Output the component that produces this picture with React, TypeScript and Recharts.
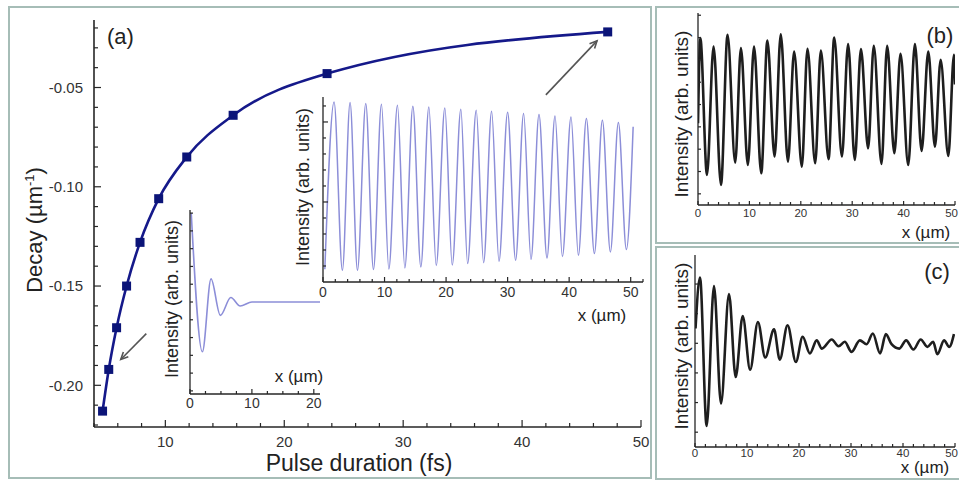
import React from "react";
import { LineChart, Line, XAxis, YAxis, ReferenceLine } from "recharts";

const FONT = "Arial, 'Liberation Sans', Helvetica, sans-serif";
const INK = "#262626";
const FRAME = "#a6bdb7";

// (a) decay constant vs pulse duration
const pulseFs = [4.72, 5.24, 5.9, 6.74, 7.87, 9.44, 11.8, 15.7, 23.6, 47.2];
const decay = [-0.213, -0.192, -0.171, -0.15, -0.128, -0.106, -0.085, -0.064, -0.043, -0.022];
const pulseTicks = [4, 6, 8, 10, 12, 14, 16, 18, 20, 22, 24, 26, 28, 30, 32, 34, 36, 38, 40, 42, 44, 46, 48, 50];
const decayTicks = [-0.22, -0.21, -0.2, -0.19, -0.18, -0.17, -0.16, -0.15, -0.14, -0.13, -0.12, -0.11, -0.1, -0.09, -0.08, -0.07, -0.06, -0.05, -0.04, -0.03, -0.02];

// inset: short pulse (fast decay)
const shortX = [0.2, 2.0, 3.4, 4.9, 6.6, 8.1, 10, 21];
const shortI = [1.0, -0.56, 0.26, -0.15, 0.05, -0.045, 0, 0];
const shortXTicks = [0, 2.5, 5, 7.5, 10, 12.5, 15, 17.5, 20];
const shortYTicks = [-1, -0.8, -0.6, -0.4, -0.2, 0, 0.2, 0.4, 0.6, 0.8, 1];

// inset: long pulse (slow decay), peaks and troughs
const longX = [0.3, 1.8, 3.15, 4.4, 5.6, 6.95, 8.2, 9.5, 10.7, 12.1, 13.3, 14.6, 15.9, 17.2, 18.4, 19.8, 21.0, 22.4, 23.5, 24.9, 26.1, 27.4, 28.6, 30.0, 31.3, 32.6, 33.8, 35.1, 36.4, 37.7, 38.9, 40.3, 41.5, 42.8, 44.1, 45.4, 46.7, 48.0, 49.3, 50.4];
const longI = [8, 112.5, 7.3, 112.1, 7.3, 111.5, 7.8, 111.1, 8.1, 110.4, 8.8, 109.8, 9.4, 109.4, 10.3, 108.8, 10.6, 107.9, 11.5, 107.3, 12.1, 106.7, 12.9, 106.1, 13.6, 105.3, 14.2, 104.6, 15.0, 103.8, 15.9, 103.1, 16.7, 102.1, 17.8, 101.1, 18.8, 99.6, 20.3, 97];
const longXTicks = [0, 2, 4, 6, 8, 10, 12, 14, 16, 18, 20, 22, 24, 26, 28, 30, 32, 34, 36, 38, 40, 42, 44, 46, 48, 50, 52];
const longYTicks = [10, 20, 30, 40, 50, 60, 70, 80, 90, 100, 110];

// (b) measured, long pulse
const bX = [0, 0.45, 1.75, 3.03, 4.47, 5.75, 7.24, 8.35, 9.7, 10.9, 12.3, 13.5, 14.9, 16.1, 17.5, 18.7, 20.2, 21.3, 22.8, 23.9, 25.4, 26.5, 28.0, 29.2, 30.5, 31.7, 33.1, 34.2, 35.7, 36.8, 38.2, 39.4, 40.9, 42.2, 43.5, 44.8, 46.1, 47.2, 48.7, 49.8, 50];
const bI = [36.6, 74.8, 13.5, 71.0, 9.0, 76.2, 19.0, 70.3, 17.9, 71.0, 14.2, 73.7, 21.7, 76.5, 19.4, 68.7, 17.2, 70.0, 18.7, 69.2, 20.5, 75.0, 21.7, 72.1, 20.2, 69.8, 25.4, 71.3, 18.4, 71.3, 23.2, 67.7, 17.9, 72.1, 24.2, 68.7, 26.1, 65.0, 22.0, 67.3, 54];
const bYTicks = [5, 15, 25, 35, 45, 55, 65, 75, 85];

// (c) measured, short pulse
const cX = [0.1, 0.96, 2.24, 3.65, 5.0, 6.54, 7.82, 9.17, 10.6, 12.1, 13.5, 15.2, 16.3, 17.8, 19.4, 20.7, 22.1, 23.4, 24.4, 26.3, 27.6, 28.8, 30.1, 31.7, 33.0, 34.2, 35.6, 36.7, 37.8, 39.3, 40.6, 42.0, 43.4, 44.7, 45.8, 46.6, 47.9, 48.9, 49.8];
const cI = [40, 57.2, 7.1, 54.3, 14.7, 51.6, 23.6, 44.2, 26.1, 42.2, 30.2, 39.7, 29.5, 41.1, 28.7, 37.2, 31.6, 36.0, 33.2, 36.3, 34.0, 35.5, 32.1, 36.0, 34.7, 38.3, 31.6, 38.1, 34.7, 33.2, 36.0, 32.9, 36.3, 33.8, 35.5, 31.3, 36.0, 33.8, 38.1];
const cYTicks = [5, 15, 25, 35, 45, 55];

const xMicronTicks = [0, 2, 4, 6, 8, 10, 12, 14, 16, 18, 20, 22, 24, 26, 28, 30, 32, 34, 36, 38, 40, 42, 44, 46, 48, 50];

const mainData = pulseFs.map((t, i) => ({ t, d: decay[i] }));
const shortData = shortX.map((x, i) => ({ x, v: shortI[i] }));
const longData = longX.map((x, i) => ({ x, v: longI[i] }));
const bData = bX.map((x, i) => ({ x, v: bI[i] }));
const cData = cX.map((x, i) => ({ x, v: cI[i] }));

type TickOpts = {
  step: number;
  majorLen: number;
  minorLen: number;
  fontSize: number;
  gap: number;
  labels?: boolean;
  rightEdge?: number;
  fmt?: (v: number) => string;
};

const isMultiple = (v: number, step: number) => Math.abs(v / step - Math.round(v / step)) < 1e-6;

function bottomTick(o: TickOpts) {
  return (p: any) => {
    const v = p.payload.value;
    const major = isMultiple(v, o.step);
    const label = o.fmt ? o.fmt(v) : String(v);
    // keep the last label inside the picture
    const halfW = label.length * o.fontSize * 0.28;
    const tooFar = o.rightEdge != null && p.x + halfW > o.rightEdge;
    return (
      <g>
        <line x1={p.x} x2={p.x} y1={p.y} y2={p.y - (major ? o.majorLen : o.minorLen)} stroke={INK} strokeWidth={1.2} />
        {major && o.labels !== false && (
          <text
            x={tooFar ? o.rightEdge : p.x}
            y={p.y + o.gap}
            textAnchor={tooFar ? "end" : "middle"}
            fontSize={o.fontSize}
            fontFamily={FONT}
            fill="#333"
          >
            {label}
          </text>
        )}
      </g>
    );
  };
}

function leftTick(o: TickOpts) {
  return (p: any) => {
    const v = p.payload.value;
    const major = isMultiple(v, o.step);
    return (
      <g>
        <line x1={p.x} x2={p.x + (major ? o.majorLen : o.minorLen)} y1={p.y} y2={p.y} stroke={INK} strokeWidth={1.2} />
        {major && o.labels !== false && (
          <text x={p.x - o.gap} y={p.y} dy="0.35em" textAnchor="end" fontSize={o.fontSize} fontFamily={FONT} fill="#333">
            {o.fmt ? o.fmt(v) : String(v)}
          </text>
        )}
      </g>
    );
  };
}

const Square = (p: any) => {
  if (p.cx == null || p.cy == null) return null;
  return <rect x={p.cx - 4.5} y={p.cy - 4.5} width={9} height={9} fill="#0b1478" />;
};

const Arrow = (p: any) => {
  const { x1, y1, x2, y2 } = p;
  const a = Math.atan2(y2 - y1, x2 - x1);
  const L = 8;
  const s = 0.45;
  const hx1 = x2 - L * Math.cos(a - s);
  const hy1 = y2 - L * Math.sin(a - s);
  const hx2 = x2 - L * Math.cos(a + s);
  const hy2 = y2 - L * Math.sin(a + s);
  return (
    <g>
      <line x1={x1} y1={y1} x2={x2} y2={y2} stroke="#555" strokeWidth={1.6} />
      <polyline points={`${hx1},${hy1} ${x2},${y2} ${hx2},${hy2}`} fill="none" stroke="#555" strokeWidth={1.6} />
    </g>
  );
};

const rotText = (x: number, y: number, size: number, content: React.ReactNode) => (
  <text x={x} y={y} transform={`rotate(-90, ${x}, ${y})`} textAnchor="middle" fontSize={size} fontFamily={FONT} fill="#222">
    {content}
  </text>
);

const plainText = (x: number, y: number, size: number, content: React.ReactNode, anchor = "middle") => (
  <text x={x} y={y} textAnchor={anchor as any} fontSize={size} fontFamily={FONT} fill="#222">
    {content}
  </text>
);

const frame = (left: number, top: number, width: number, height: number): React.CSSProperties => ({
  position: "absolute",
  left,
  top,
  width,
  height,
  border: `2px solid ${FRAME}`,
  boxSizing: "border-box",
});

export default function App() {
  return (
    <div style={{ position: "absolute", left: 0, top: 0, width: 959, height: 481, overflow: "hidden", background: "#fff", fontFamily: FONT }}>
      <div style={frame(8, 6, 644, 473)} />
      <div style={frame(655, 6, 320, 238)} />
      <div style={frame(655, 246, 320, 234)} />

      {/* (a) main chart */}
      <div style={{ position: "absolute", left: 0, top: 0 }}>
        <LineChart width={660} height={481} data={mainData} margin={{ top: 20, right: 19, left: 0, bottom: 23 }}>
          <XAxis
            dataKey="t"
            type="number"
            domain={[4, 50]}
            ticks={pulseTicks}
            interval={0}
            allowDataOverflow
            tickSize={0}
            tickMargin={0}
            tickLine={false}
            height={31}
            axisLine={{ stroke: INK, strokeWidth: 1.6 }}
            tick={bottomTick({ step: 10, majorLen: 7, minorLen: 4, fontSize: 15, gap: 19.5 })}
            label={{ content: () => plainText(359, 471, 23, "Pulse duration (fs)") }}
          />
          <YAxis
            type="number"
            domain={[-0.221, -0.016]}
            ticks={decayTicks}
            interval={0}
            allowDataOverflow
            width={94}
            tickSize={0}
            tickMargin={0}
            tickLine={false}
            axisLine={{ stroke: INK, strokeWidth: 1.6 }}
            tick={leftTick({ step: 0.05, majorLen: 7, minorLen: 4, fontSize: 15, gap: 11, fmt: (v) => v.toFixed(2) })}
            label={{
              content: () => (
                <g>
                  {rotText(
                    42,
                    230,
                    22,
                    <>
                      Decay (µm<tspan dy={-8} fontSize={13}>-1</tspan>
                      <tspan dy={8}>)</tspan>
                    </>
                  )}
                  {plainText(107, 44, 22, "(a)", "start")}
                </g>
              ),
            }}
          />
          <ReferenceLine segment={[{ x: 8.4, y: -0.174 }, { x: 6.25, y: -0.187 }]} ifOverflow="visible" shape={Arrow} />
          <ReferenceLine segment={[{ x: 42.0, y: -0.0537 }, { x: 46.3, y: -0.0265 }]} ifOverflow="visible" shape={Arrow} />
          <Line dataKey="d" type="monotone" stroke="#15198a" strokeWidth={2.6} dot={<Square />} isAnimationActive={false} />
        </LineChart>
      </div>

      {/* inset: short pulse */}
      <div style={{ position: "absolute", left: 150, top: 200 }}>
        <LineChart width={180} height={220} data={shortData} margin={{ top: 10, right: 10, left: 0, bottom: 6 }}>
          <XAxis
            dataKey="x"
            type="number"
            domain={[0, 21]}
            ticks={shortXTicks}
            interval={0}
            allowDataOverflow
            tickSize={0}
            tickMargin={0}
            tickLine={false}
            height={20}
            axisLine={{ stroke: INK, strokeWidth: 1.3 }}
            tick={bottomTick({ step: 10, majorLen: 5, minorLen: 3, fontSize: 14, gap: 14 })}
            label={{ content: () => plainText(149, 182, 17, "x (µm)") }}
          />
          <YAxis
            type="number"
            domain={[-1.035, 1.035]}
            ticks={shortYTicks}
            interval={0}
            allowDataOverflow
            width={40}
            tickSize={0}
            tickMargin={0}
            tickLine={false}
            axisLine={{ stroke: INK, strokeWidth: 1.3 }}
            tick={leftTick({ step: 0.2, majorLen: 3, minorLen: 3, fontSize: 12, gap: 4, labels: false })}
            label={{ content: () => rotText(28, 99, 18, "Intensity (arb. units)") }}
          />
          <Line dataKey="v" type="monotone" stroke="#8c8ed8" strokeWidth={1.6} dot={false} isAnimationActive={false} />
        </LineChart>
      </div>

      {/* inset: long pulse */}
      <div style={{ position: "absolute", left: 290, top: 85 }}>
        <LineChart width={360} height={245} data={longData} margin={{ top: 12, right: 7, left: 0, bottom: 18 }}>
          <XAxis
            dataKey="x"
            type="number"
            domain={[0, 52]}
            ticks={longXTicks}
            interval={0}
            allowDataOverflow
            tickSize={0}
            tickMargin={0}
            tickLine={false}
            height={30}
            axisLine={{ stroke: INK, strokeWidth: 1.3 }}
            tick={bottomTick({ step: 10, majorLen: 5, minorLen: 3, fontSize: 14, gap: 15 })}
            label={{ content: () => plainText(312, 236, 17, "x (µm)") }}
          />
          <YAxis
            type="number"
            domain={[0, 115.6]}
            ticks={longYTicks}
            interval={0}
            allowDataOverflow
            width={33}
            tickSize={0}
            tickMargin={0}
            tickLine={false}
            axisLine={{ stroke: INK, strokeWidth: 1.3 }}
            tick={leftTick({ step: 50, majorLen: 5, minorLen: 3, fontSize: 12, gap: 4, labels: false })}
            label={{ content: () => rotText(19, 102, 18, "Intensity (arb. units)") }}
          />
          <Line dataKey="v" type="monotone" stroke="#8c8ed8" strokeWidth={1.5} dot={false} isAnimationActive={false} />
        </LineChart>
      </div>

      {/* (b) */}
      <div style={{ position: "absolute", left: 656, top: 8 }}>
        <LineChart width={303} height={238} data={bData} margin={{ top: 5, right: 4, left: 0, bottom: 11 }}>
          <XAxis
            dataKey="x"
            type="number"
            domain={[0, 50]}
            ticks={xMicronTicks}
            interval={0}
            allowDataOverflow
            tickSize={0}
            tickMargin={0}
            tickLine={false}
            height={30}
            axisLine={{ stroke: INK, strokeWidth: 1.3 }}
            tick={bottomTick({ step: 10, majorLen: 4, minorLen: 3, fontSize: 11.5, gap: 12, rightEdge: 302 })}
            label={{ content: () => plainText(270, 230, 17, "x (µm)") }}
          />
          <YAxis
            type="number"
            domain={[0, 86]}
            ticks={bYTicks}
            interval={0}
            allowDataOverflow
            width={42}
            tickSize={0}
            tickMargin={0}
            tickLine={false}
            axisLine={{ stroke: INK, strokeWidth: 1.3 }}
            tick={leftTick({ step: 1000, majorLen: 3, minorLen: 3, fontSize: 11, gap: 4, labels: false })}
            label={{
              content: () => (
                <g>
                  {rotText(32, 106, 19, "Intensity (arb. units)")}
                  {plainText(284, 35, 22, "(b)")}
                </g>
              ),
            }}
          />
          <Line dataKey="v" type="monotone" stroke="#1e1e1e" strokeWidth={2.6} dot={false} isAnimationActive={false} />
        </LineChart>
      </div>

      {/* (c) */}
      <div style={{ position: "absolute", left: 655, top: 247 }}>
        <LineChart width={304} height={232} data={cData} margin={{ top: 8, right: 4, left: 0, bottom: 7 }}>
          <XAxis
            dataKey="x"
            type="number"
            domain={[0, 50]}
            ticks={xMicronTicks}
            interval={0}
            allowDataOverflow
            tickSize={0}
            tickMargin={0}
            tickLine={false}
            height={25}
            axisLine={{ stroke: INK, strokeWidth: 1.3 }}
            tick={bottomTick({ step: 10, majorLen: 4, minorLen: 3, fontSize: 11.5, gap: 10, rightEdge: 303 })}
            label={{ content: () => plainText(270, 226, 17, "x (µm)") }}
          />
          <YAxis
            type="number"
            domain={[0, 64.8]}
            ticks={cYTicks}
            interval={0}
            allowDataOverflow
            width={40}
            tickSize={0}
            tickMargin={0}
            tickLine={false}
            axisLine={{ stroke: INK, strokeWidth: 1.3 }}
            tick={leftTick({ step: 1000, majorLen: 3, minorLen: 3, fontSize: 11, gap: 4, labels: false })}
            label={{
              content: () => (
                <g>
                  {rotText(33, 99, 19, "Intensity (arb. units)")}
                  {plainText(282, 32, 22, "(c)")}
                </g>
              ),
            }}
          />
          <Line dataKey="v" type="monotone" stroke="#1e1e1e" strokeWidth={2.6} dot={false} isAnimationActive={false} />
        </LineChart>
      </div>
    </div>
  );
}
